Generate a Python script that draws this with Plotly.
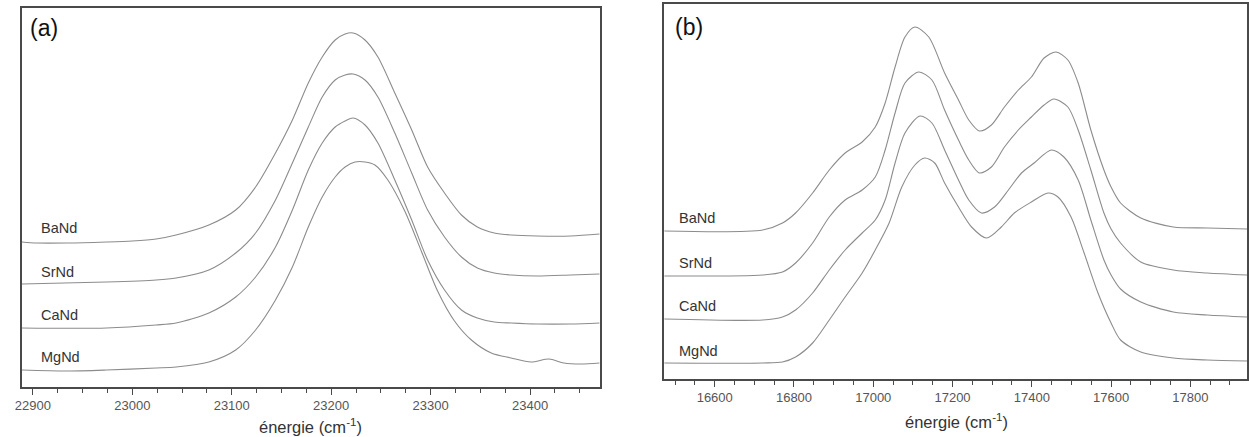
import plotly.graph_objects as go

# ---------------- data (panel a) ----------------
labels = ["BaNd", "SrNd", "CaNd", "MgNd"]

a_ba_x = [22889, 22904, 22934, 22974, 23000, 23024, 23044, 23077, 23104, 23124, 23144, 23161, 23177, 23191, 23204, 23214, 23222, 23234, 23247, 23264, 23281, 23297, 23314, 23331, 23347, 23364, 23381, 23407, 23441, 23470]
a_ba_y = [145, 144, 144, 145, 146, 148, 152, 162, 177, 200, 234, 267, 304, 330, 347, 353, 354, 347, 330, 294, 257, 220, 194, 172, 160, 154, 152, 151, 151, 153]

a_sr_x = [22889, 22974, 23024, 23044, 23077, 23104, 23124, 23144, 23161, 23177, 23191, 23204, 23214, 23222, 23234, 23247, 23264, 23281, 23297, 23314, 23331, 23347, 23364, 23381, 23407, 23441, 23470]
a_sr_y = [103, 105, 107, 109, 117, 134, 154, 187, 224, 260, 290, 307, 312, 313, 307, 290, 254, 214, 177, 150, 130, 119, 114, 112, 111, 112, 113]

a_ca_x = [22889, 22974, 23024, 23044, 23077, 23104, 23124, 23144, 23161, 23177, 23191, 23204, 23214, 23222, 23234, 23247, 23264, 23281, 23297, 23314, 23331, 23347, 23364, 23381, 23407, 23441, 23470]
a_ca_y = [59, 59, 62, 64, 74, 90, 110, 140, 177, 217, 244, 260, 266, 269, 262, 244, 207, 167, 127, 97, 77, 69, 65, 64, 63, 63, 64]

a_mg_x = [22889, 22934, 22974, 23024, 23044, 23077, 23104, 23124, 23144, 23161, 23177, 23191, 23204, 23214, 23224, 23234, 23244, 23257, 23274, 23291, 23307, 23324, 23341, 23361, 23381, 23401, 23419, 23434, 23451, 23470]
a_mg_y = [17, 16, 17, 19, 20, 25, 37, 57, 87, 120, 160, 190, 210, 220, 225, 225, 222, 207, 176, 135, 96, 66, 47, 34, 29, 25, 28, 24, 23, 24]

# ---------------- data (panel b) ----------------
b_ba_x = [16473, 16721, 16771, 16804, 16847, 16889, 16929, 16972, 17005, 17030, 17055, 17080, 17105, 17140, 17180, 17215, 17241, 17268, 17298, 17331, 17366, 17399, 17431, 17461, 17491, 17517, 17549, 17582, 17600, 17624, 17675, 17757, 17843, 17943]
b_ba_y = [148, 149, 156, 166, 186, 209, 226, 237, 252, 276, 312, 342, 352, 342, 306, 279, 259, 248, 254, 272, 289, 302, 321, 327, 319, 296, 249, 209, 192, 176, 161, 152, 151, 150]

b_sr_x = [16473, 16721, 16771, 16804, 16847, 16889, 16929, 16972, 17005, 17030, 17055, 17080, 17115, 17148, 17180, 17215, 17241, 17268, 17298, 17331, 17366, 17399, 17431, 17456, 17491, 17517, 17549, 17582, 17600, 17624, 17675, 17757, 17843, 17943]
b_sr_y = [103, 104, 107, 116, 136, 162, 179, 189, 202, 229, 266, 296, 307, 299, 269, 239, 219, 206, 212, 232, 249, 262, 274, 280, 272, 249, 209, 166, 150, 136, 117, 109, 106, 104]

b_ca_x = [16473, 16721, 16771, 16804, 16847, 16889, 16929, 16972, 17005, 17030, 17055, 17080, 17118, 17148, 17180, 17215, 17241, 17273, 17306, 17341, 17374, 17406, 17449, 17481, 17517, 17549, 17582, 17600, 17624, 17675, 17757, 17843, 17943]
b_ca_y = [60, 59, 62, 69, 86, 109, 129, 146, 159, 179, 216, 246, 263, 256, 229, 199, 179, 166, 172, 189, 206, 216, 229, 222, 199, 159, 119, 104, 90, 77, 67, 64, 62]

b_mg_x = [16473, 16721, 16771, 16804, 16847, 16889, 16929, 16972, 17005, 17040, 17072, 17105, 17130, 17155, 17180, 17215, 17248, 17286, 17323, 17356, 17399, 17441, 17466, 17499, 17532, 17567, 17600, 17624, 17675, 17757, 17843, 17943]
b_mg_y = [16, 16, 17, 22, 36, 59, 82, 106, 129, 156, 192, 214, 221, 216, 196, 172, 152, 141, 152, 166, 177, 186, 182, 162, 126, 86, 56, 39, 27, 21, 19, 18]

a_tickvals = [22900, 23000, 23100, 23200, 23300, 23400]
b_tickvals = [16600, 16800, 17000, 17200, 17400, 17600, 17800]

# ---------------- figure ----------------
W, H = 1249, 437
line_col = "#8c8c8c"
frame_col = "#4a4a4a"
font_fam = "Liberation Sans, Arial, sans-serif"

fig = go.Figure()
a_series = [(a_ba_x, a_ba_y), (a_sr_x, a_sr_y), (a_ca_x, a_ca_y), (a_mg_x, a_mg_y)]
b_series = [(b_ba_x, b_ba_y), (b_sr_x, b_sr_y), (b_ca_x, b_ca_y), (b_mg_x, b_mg_y)]
for name, (xs, ys) in zip(labels, a_series):
    fig.add_trace(go.Scatter(x=xs, y=ys, mode="lines", name=name, xaxis="x", yaxis="y",
                             line=dict(color=line_col, width=1.1, shape="spline", smoothing=0.8)))
for name, (xs, ys) in zip(labels, b_series):
    fig.add_trace(go.Scatter(x=xs, y=ys, mode="lines", name=name, xaxis="x2", yaxis="y2",
                             line=dict(color=line_col, width=1.1, shape="spline", smoothing=0.8)))

def px_x(p):
    return p / W

def px_y(p):
    return 1 - p / H

xa_common = dict(showline=True, linecolor=frame_col, linewidth=1.5, mirror=True,
                 ticks="outside", ticklen=6, tickwidth=1, tickcolor=frame_col,
                 showgrid=False, zeroline=False, tickformat="d",
                 tickfont=dict(family=font_fam, size=13, color="#555555"))
ya_common = dict(showline=True, linecolor=frame_col, linewidth=1.5, mirror=True,
                 ticks="", showticklabels=False, showgrid=False, zeroline=False)

fig.update_layout(
    width=W, height=H, margin=dict(l=0, r=0, t=0, b=0),
    paper_bgcolor="white", plot_bgcolor="white", showlegend=False,
    xaxis=dict(domain=[px_x(15), px_x(596)], range=[22889, 23470], tickvals=a_tickvals,
               minor=dict(dtick=25, ticks="outside", ticklen=4, tickcolor=frame_col, showgrid=False),
               anchor="y", **xa_common),
    yaxis=dict(domain=[px_y(387), px_y(8)], range=[0, 379], anchor="x", **ya_common),
    xaxis2=dict(domain=[px_x(660.7), px_x(1247)], range=[16472, 17943], tickvals=b_tickvals,
                minor=dict(dtick=50, ticks="outside", ticklen=4, tickcolor=frame_col, showgrid=False),
                anchor="y2", **xa_common),
    yaxis2=dict(domain=[px_y(379), px_y(4)], range=[0, 375], anchor="x2", **ya_common),
)

ann = []
a_lab_y = [159, 115, 72, 30]
b_lab_y = [161, 116, 73, 28]
for name, yv in zip(labels, a_lab_y):
    ann.append(dict(x=22906, y=yv, xref="x", yref="y", text=name, showarrow=False,
                    xanchor="left", yanchor="middle", font=dict(family=font_fam, size=14.5, color="#333333")))
for name, yv in zip(labels, b_lab_y):
    ann.append(dict(x=16505, y=yv, xref="x2", yref="y2", text=name, showarrow=False,
                    xanchor="left", yanchor="middle", font=dict(family=font_fam, size=14.5, color="#333333")))
ann.append(dict(x=px_x(21), y=px_y(28), xref="paper", yref="paper", text="(a)", showarrow=False,
                xanchor="left", yanchor="middle", font=dict(family=font_fam, size=23, color="#111111")))
ann.append(dict(x=px_x(670), y=px_y(27), xref="paper", yref="paper", text="(b)", showarrow=False,
                xanchor="left", yanchor="middle", font=dict(family=font_fam, size=23, color="#111111")))
ann.append(dict(x=px_x(305), y=px_y(426), xref="paper", yref="paper", text="énergie (cm<sup>-1</sup>)",
                showarrow=False, xanchor="center", yanchor="middle",
                font=dict(family=font_fam, size=16.5, color="#333333")))
ann.append(dict(x=px_x(955), y=px_y(421), xref="paper", yref="paper", text="énergie (cm<sup>-1</sup>)",
                showarrow=False, xanchor="center", yanchor="middle",
                font=dict(family=font_fam, size=16.5, color="#333333")))
fig.update_layout(annotations=ann)

fig.write_html("out.html", config={"displayModeBar": False},
               post_script="document.body.style.margin='0';")
